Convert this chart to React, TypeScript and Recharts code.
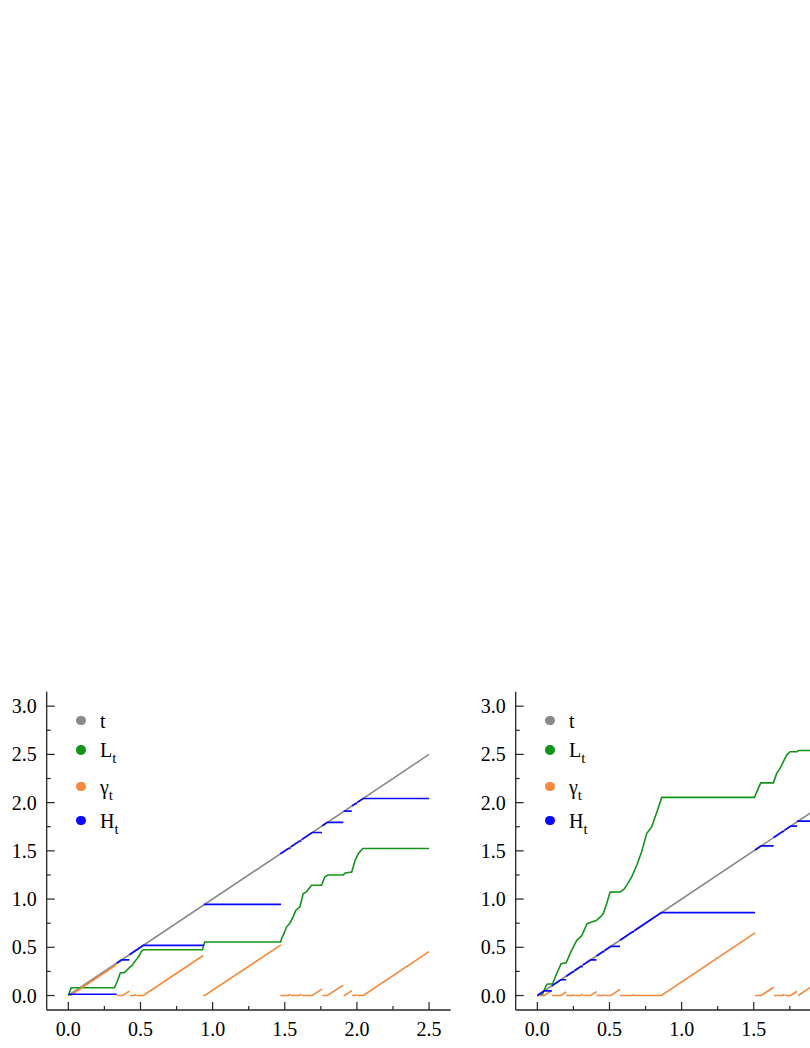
import { Legend, Line, LineChart, XAxis, YAxis } from 'recharts'

type Pt = [number, number | null]

// axes
const xTicks = [0, 0.25, 0.5, 0.75, 1, 1.25, 1.5, 1.75, 2, 2.25, 2.5]
const yTicks = [0, 0.25, 0.5, 0.75, 1, 1.25, 1.5, 1.75, 2, 2.25, 2.5, 2.75, 3]
const xDomain: [number, number] = [-0.15, 2.65]
const yDomain: [number, number] = [-0.15, 3.15]

// legend / series
const seriesNames = ['t', 'L', 'γ', 'H']
const seriesSubs = ['', 't', 't', 't']
const seriesColors = ['#8a8a8a', '#12931a', '#f5883a', '#0a0aff']

// left panel
const leftT: Pt[] = [[0, 0], [2.5, 2.5]]
const leftL: Pt[] = [
  [0, 0], [0.02, 0.08], [0.32, 0.08], [0.34, 0.15], [0.36, 0.235], [0.39, 0.24], [0.41, 0.27],
  [0.43, 0.3], [0.44, 0.31], [0.46, 0.35], [0.475, 0.38], [0.49, 0.41], [0.505, 0.455], [0.52, 0.475],
  [0.93, 0.475], [0.945, 0.555], [1.472, 0.555], [1.48, 0.6], [1.49, 0.625], [1.512, 0.71],
  [1.535, 0.75], [1.558, 0.815], [1.577, 0.885], [1.605, 0.92], [1.628, 1.058], [1.65, 1.075],
  [1.686, 1.144], [1.755, 1.144], [1.778, 1.23], [1.8, 1.25], [1.906, 1.25], [1.918, 1.27],
  [1.964, 1.28], [1.987, 1.4], [2.01, 1.47], [2.04, 1.525], [2.5, 1.525],
]
const leftG: Pt[] = [
  [0.013, 0], [0.335, 0.322], [0.335, null],
  [0.335, 0], [0.377, 0], [0.423, 0.046], [0.423, null],
  [0.428, 0], [0.455, 0], [0.47, 0.012], [0.47, null],
  [0.472, 0], [0.52, 0], [0.935, 0.415], [0.935, null],
  [0.935, 0], [0.945, 0], [1.474, 0.525], [1.474, null],
  [1.47, 0], [1.525, 0], [1.54, 0.014], [1.54, null],
  [1.542, 0], [1.6, 0], [1.615, 0.013], [1.615, null],
  [1.617, 0], [1.69, 0], [1.758, 0.066], [1.758, null],
  [1.76, 0], [1.795, 0], [1.906, 0.108], [1.906, null],
  [1.908, 0], [1.915, 0], [1.964, 0.05], [1.964, null],
  [1.966, 0], [1.99, 0], [2.0, 0.01], [2.0, null],
  [2.003, 0], [2.045, 0], [2.5, 0.455],
]
const leftH: Pt[] = [
  [0, 0.013], [0.335, 0.013], [0.335, null],
  [0.335, 0.335], [0.37, 0.37], [0.423, 0.37], [0.423, null],
  [0.423, 0.423], [0.52, 0.52], [0.94, 0.52], [0.94, null],
  [0.94, 0.945], [1.474, 0.945], [1.474, null],
  [1.47, 1.47], [1.525, 1.525], [1.54, 1.525], [1.54, null],
  [1.542, 1.542], [1.6, 1.6], [1.615, 1.6], [1.615, null],
  [1.617, 1.617], [1.69, 1.69], [1.758, 1.69], [1.758, null],
  [1.76, 1.76], [1.795, 1.795], [1.906, 1.795], [1.906, null],
  [1.908, 1.908], [1.915, 1.912], [1.964, 1.912], [1.964, null],
  [1.966, 1.966], [1.99, 1.99], [2.0, 1.99], [2.0, null],
  [2.003, 2.003], [2.043, 2.043], [2.5, 2.043],
]

// right panel
const rightT: Pt[] = [[0, 0], [2.5, 2.5]]
const rightL: Pt[] = [
  [0, 0], [0.035, 0.01], [0.06, 0.1], [0.07, 0.12], [0.105, 0.12], [0.134, 0.228], [0.165, 0.33],
  [0.2, 0.34], [0.227, 0.435], [0.262, 0.54], [0.275, 0.575], [0.307, 0.62], [0.345, 0.745],
  [0.377, 0.763], [0.411, 0.78], [0.44, 0.82], [0.457, 0.85], [0.48, 0.95], [0.504, 1.072],
  [0.573, 1.075], [0.6, 1.1], [0.62, 1.145], [0.654, 1.23], [0.689, 1.35], [0.723, 1.49],
  [0.758, 1.68], [0.793, 1.75], [0.828, 1.9], [0.862, 2.054], [1.505, 2.054], [1.548, 2.205],
  [1.636, 2.205], [1.659, 2.303], [1.682, 2.355], [1.705, 2.424], [1.728, 2.493], [1.751, 2.527],
  [1.8, 2.527], [1.81, 2.54], [2.5, 2.54],
]
const rightG: Pt[] = [
  [0, 0], [0.048, 0], [0.1, 0.052], [0.1, null],
  [0.1, 0], [0.163, 0], [0.2, 0.037], [0.2, null],
  [0.2, 0], [0.245, 0], [0.255, 0.01], [0.255, null],
  [0.257, 0], [0.3, 0], [0.315, 0.015], [0.315, null],
  [0.317, 0], [0.37, 0], [0.41, 0.04], [0.41, null],
  [0.41, 0], [0.455, 0], [0.465, 0.01], [0.465, null],
  [0.467, 0], [0.51, 0], [0.573, 0.063], [0.573, null],
  [0.573, 0], [0.66, 0], [0.67, 0.01], [0.67, null],
  [0.672, 0], [0.86, 0], [1.509, 0.649], [1.509, null],
  [1.509, 0], [1.552, 0], [1.638, 0.086], [1.638, null],
  [1.638, 0], [1.7, 0], [1.712, 0.012], [1.712, null],
  [1.714, 0], [1.756, 0], [1.8, 0.044], [1.8, null],
  [1.808, 0], [2.5, 0.692],
]
const rightH: Pt[] = [
  [0, 0], [0.048, 0.048], [0.1, 0.048], [0.1, null],
  [0.1, 0.1], [0.163, 0.163], [0.2, 0.163], [0.2, null],
  [0.2, 0.2], [0.245, 0.245], [0.255, 0.245], [0.255, null],
  [0.257, 0.257], [0.3, 0.3], [0.315, 0.3], [0.315, null],
  [0.317, 0.317], [0.37, 0.37], [0.41, 0.37], [0.41, null],
  [0.41, 0.41], [0.455, 0.455], [0.465, 0.455], [0.465, null],
  [0.467, 0.467], [0.51, 0.51], [0.573, 0.51], [0.573, null],
  [0.573, 0.573], [0.66, 0.66], [0.67, 0.66], [0.67, null],
  [0.672, 0.672], [0.86, 0.86], [1.509, 0.86], [1.509, null],
  [1.509, 1.509], [1.552, 1.552], [1.638, 1.552], [1.638, null],
  [1.638, 1.638], [1.7, 1.7], [1.712, 1.7], [1.712, null],
  [1.714, 1.714], [1.756, 1.756], [1.8, 1.756], [1.8, null],
  [1.8, 1.808], [2.5, 1.808],
]

const FONT = '"Liberation Serif", "Times New Roman", serif'
const AXIS = '#262626'
const PANEL_W = 460
const legendRowsY = [40.7, 70, 106.7, 140.7]

const toPts = (p: Pt[]) => p.map(([x, y]) => ({ x, y }))
const isMajor = (v: number) => Math.abs(v * 2 - Math.round(v * 2)) < 1e-6

function makeBottomTick(labelMaxX: number) {
  return function BottomTick({ x, y, payload }: any) {
    const major = isMajor(payload.value)
    return (
      <g>
        <line x1={x} y1={y} x2={x} y2={y - (major ? 8 : 4)} stroke={AXIS} strokeWidth={1.2} />
        {major && x + 14 <= labelMaxX && (
          <text x={x} y={y + 26} textAnchor="middle" fontSize={20} fontFamily={FONT} fill="#000">
            {payload.value.toFixed(1)}
          </text>
        )}
      </g>
    )
  }
}

function LeftTick({ x, y, payload }: any) {
  const major = isMajor(payload.value)
  return (
    <g>
      <line x1={x} y1={y} x2={x + (major ? 8 : 4)} y2={y} stroke={AXIS} strokeWidth={1.2} />
      {major && (
        <text x={x - 10} y={y + 7} textAnchor="end" fontSize={20} fontFamily={FONT} fill="#000">
          {payload.value.toFixed(1)}
        </text>
      )}
    </g>
  )
}

function TopTick({ x, y, payload }: any) {
  const len = isMajor(payload.value) ? 8 : 4
  return <line x1={x} y1={y} x2={x} y2={y + len} stroke={AXIS} strokeWidth={1.2} />
}

function RightTick({ x, y, payload }: any) {
  const len = isMajor(payload.value) ? 8 : 4
  return <line x1={x} y1={y} x2={x - len} y2={y} stroke={AXIS} strokeWidth={1.2} />
}

function LegendBox({ payload }: any) {
  const colorOf = (name: string, i: number) =>
    (payload ?? []).find((e: any) => e.value === name)?.color ?? seriesColors[i]
  return (
    <div style={{ position: 'relative', width: 200, height: 170, fontFamily: FONT }}>
      {seriesNames.map((name, i) => {
        const cy = legendRowsY[i]
        return (
          <div key={name}>
            <div
              style={{
                position: 'absolute', left: 81 - 4.7, top: cy - 4.7, width: 9.4, height: 9.4,
                borderRadius: '50%', background: colorOf(name, i),
              }}
            />
            <div style={{ position: 'absolute', left: 100, top: cy - 10, lineHeight: '20px', fontSize: 20, color: '#000', whiteSpace: 'nowrap' }}>
              {name}
              {seriesSubs[i] && (
                <span style={{ fontSize: 15, position: 'relative', top: 6 }}>{seriesSubs[i]}</span>
              )}
            </div>
          </div>
        )
      })}
    </div>
  )
}

function Panel({ series, labelMaxX }: { series: Pt[][]; labelMaxX: number }) {
  const axisLine = { stroke: AXIS, strokeWidth: 1.3 }
  return (
    <LineChart width={PANEL_W} height={368} margin={{ top: 11.7, right: 9.3, bottom: 0, left: 0 }}>
      <XAxis type="number" dataKey="x" domain={xDomain} ticks={xTicks} interval={0} allowDataOverflow
        height={38} tickSize={0} tickMargin={0} tickLine={false} axisLine={axisLine} tick={makeBottomTick(labelMaxX)} />
      <XAxis xAxisId="top" orientation="top" type="number" dataKey="x" domain={xDomain} ticks={xTicks} interval={0}
        allowDataOverflow height={0} tickSize={0} tickMargin={0} tickLine={false} axisLine={axisLine} tick={TopTick} />
      <YAxis type="number" domain={yDomain} ticks={yTicks} interval={0} allowDataOverflow
        width={46.7} tickSize={0} tickMargin={0} tickLine={false} axisLine={axisLine} tick={LeftTick} />
      <YAxis yAxisId="right" orientation="right" type="number" domain={yDomain} ticks={yTicks} interval={0}
        allowDataOverflow width={0} tickSize={0} tickMargin={0} tickLine={false} axisLine={axisLine} tick={RightTick} />
      <Legend layout="vertical" align="center" verticalAlign="middle"
        wrapperStyle={{ top: 0, left: 0, width: 200, height: 170 }} content={LegendBox} />
      {series.map((s, i) => (
        <Line key={seriesNames[i]} data={toPts(s)} dataKey="y" name={seriesNames[i]} type="linear"
          stroke={seriesColors[i]} strokeWidth={1.6} dot={false} activeDot={false}
          legendType="circle" isAnimationActive={false} />
      ))}
    </LineChart>
  )
}

export default function App() {
  return (
    <div style={{ position: 'absolute', left: 0, top: 0, width: 810, height: 1048, overflow: 'hidden', background: '#fff' }}>
      <div style={{ position: 'absolute', left: 0, top: 680 }}>
        <Panel series={[leftT, leftL, leftG, leftH]} labelMaxX={PANEL_W} />
      </div>
      <div style={{ position: 'absolute', left: 469, top: 680 }}>
        <Panel series={[rightT, rightL, rightG, rightH]} labelMaxX={810 - 469} />
      </div>
    </div>
  )
}
